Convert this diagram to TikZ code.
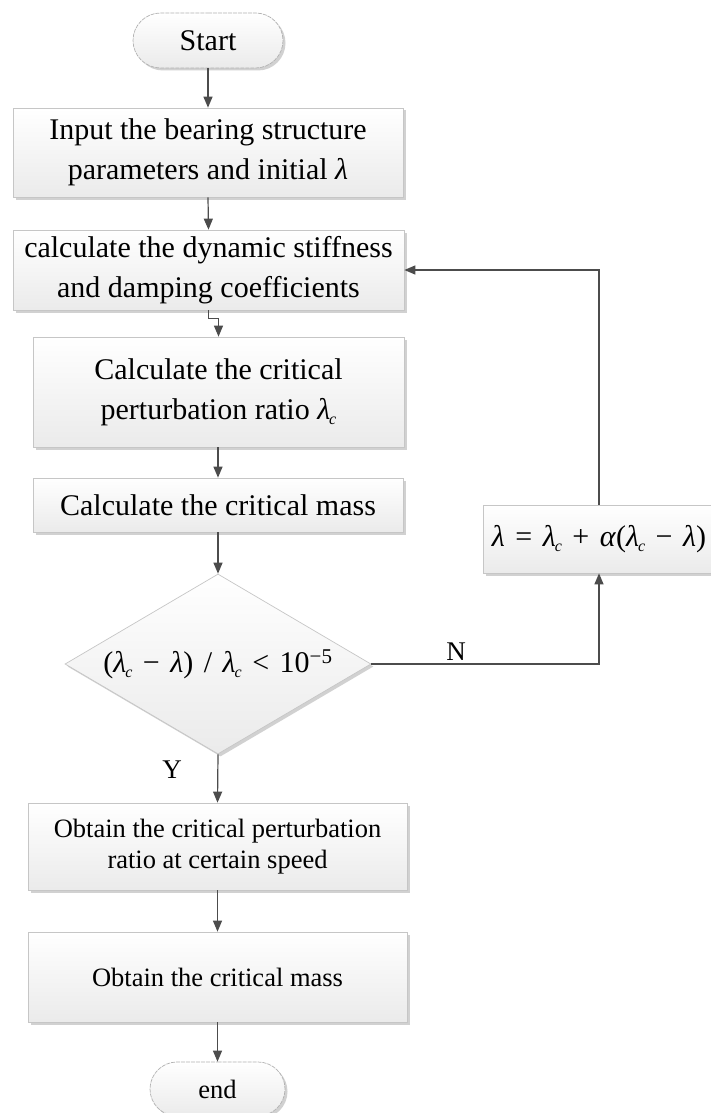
\documentclass[tikz,border=0pt]{standalone}
\usepackage{fontspec}
\setmainfont{Liberation Serif}
\usetikzlibrary{shapes.geometric,shapes.misc,shadows,arrows.meta}
\newcommand\lm{\textit{λ}}
\newcommand\lmc{\textit{λ}\kern-1pt\raisebox{-0.35ex}{\fontsize{16}{16}\selectfont\textit{c}}}
\newcommand\opsp{\hspace{0.35em}}
\begin{document}
\begin{tikzpicture}[x=1pt,y=-1pt,
  big/.style={font=\fontsize{30}{40}\selectfont},
  small/.style={font=\fontsize{26.5}{31}\selectfont},
  boxbase/.style={draw=gray!45, line width=0.7pt, top color=white, bottom color=gray!16,
    drop shadow={shadow xshift=2.5pt, shadow yshift=-2.5pt, fill=gray!45, opacity=0.8},
    inner sep=0pt, align=center, text=black},
  procbox/.style={boxbase, rectangle},
  termbox/.style={boxbase, rounded rectangle, draw=gray!60, dashed, dash pattern=on 4pt off 1pt},
  decbox/.style={boxbase, diamond, shape aspect=1.7},
  flow/.style={draw=black!70, line width=1.2pt, -{Triangle[length=11pt,width=9pt]}},
  lbl/.style={font=\fontsize{27}{27}\selectfont, inner sep=0pt}
]
\useasboundingbox (0,0) rectangle (710,1113);
\fill[white] (0,0) rectangle (710,1113);

\node[termbox, big, minimum width=150pt, minimum height=55pt] (start) at (208,40.5) {Start};
\node[procbox, big, minimum width=390pt, minimum height=89pt] (b1) at (208,152.5)
  {Input the bearing structure\\parameters and initial \lm};
\node[procbox, big, minimum width=391pt, minimum height=80pt] (b2) at (208.5,270)
  {calculate the dynamic stiffness\\and damping coefficients};
\node[procbox, big, minimum width=371pt, minimum height=110pt] (b3) at (218.5,392)
  {Calculate the critical\\perturbation ratio \lmc};
\node[procbox, big, minimum width=370pt, minimum height=54pt] (b4) at (218,505)
  {Calculate the critical mass};
\node[decbox, big, minimum width=306pt, minimum height=180pt] (dec) at (218,664)
  {(\lmc\opsp−\opsp\lm)\opsp/\opsp\lmc\opsp<\opsp10\textsuperscript{−5}};
\node[procbox, big, minimum width=232pt, minimum height=68pt] (b5) at (599,539)
  {\lm\opsp=\opsp\lmc\opsp+\opsp\textit{α}(\lmc\opsp−\opsp\lm)};
\node[procbox, small, minimum width=379pt, minimum height=87pt] (b6) at (217.5,846.5)
  {Obtain the critical perturbation\\ratio at certain speed};
\node[procbox, small, minimum width=379pt, minimum height=90pt] (b7) at (217.5,977)
  {Obtain the critical mass};
\node[termbox, small, minimum width=135pt, minimum height=54pt] (end) at (217.5,1089) {end};

\node[lbl] (ylab) at (172,770) {Y};
\node[lbl] (nlab) at (456,652) {N};

\draw[flow] (start.south) -- (b1.north);
\draw[flow] (b1.south) -- (b2.north);
\draw[flow] (b2.south) -- ++(0,8) -| (b3.north);
\draw[flow] (b3.south -| b4.north) -- (b4.north);
\draw[flow] (b4.south -| dec.north) -- (dec.north);
\draw[flow] (dec.south) -- (b6.north);
\draw[flow] (dec.east) -| (b5.south);
\draw[flow] (b5.north) |- (b2.east);
\draw[flow] (b6.south) -- (b7.north);
\draw[flow] (b7.south) -- (end.north);
\end{tikzpicture}
\end{document}
